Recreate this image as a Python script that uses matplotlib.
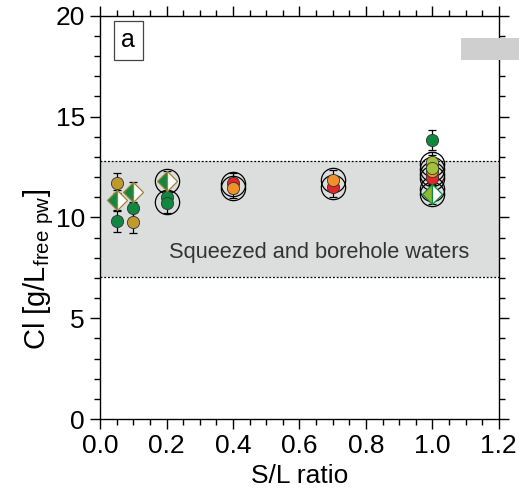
import matplotlib
matplotlib.use("Agg")
import matplotlib.pyplot as plt
from matplotlib.patches import Rectangle
from matplotlib.ticker import MultipleLocator

plt.rcParams['font.family'] = ['Liberation Sans', 'DejaVu Sans']
plt.rcParams['mathtext.fontset'] = 'custom'
plt.rcParams['mathtext.rm'] = 'Liberation Sans'

# filled symbols, S/L ratio vs Cl
green_x = [0.05, 0.1, 0.2, 0.2, 1.0]
green_y = [9.8, 10.45, 11.0, 10.7, 13.85]
gold_x = [0.05, 0.1, 1.0]
gold_y = [11.7, 9.75, 12.6]
red_x = [0.4, 0.7, 1.0, 1.0]
red_y = [11.7, 11.5, 12.1, 11.95]
orange_x = [0.4, 0.7, 1.0]
orange_y = [11.45, 11.85, 12.3]
ygreen_x = [1.0, 1.0]
ygreen_y = [12.75, 12.45]
diam_x = [0.05, 0.1, 0.2]
diam_y = [10.85, 11.25, 11.8]
ydiam_x = [1.0]
ydiam_y = [11.15]
err = 0.5

# open circles (replicates)
open_x = [0.2, 0.2, 0.4, 0.4, 0.7, 0.7, 1.0, 1.0, 1.0, 1.0, 1.0, 1.0]
open_y = [11.8, 10.75, 11.65, 11.45, 11.85, 11.5, 12.65, 12.4, 12.15, 11.95, 11.4, 11.15]

# range of squeezed and borehole waters
band_lo, band_hi = 7.05, 12.8

fig = plt.figure(figsize=(5.19, 4.95), dpi=100)
ax = fig.add_axes([0.193, 0.1535, 0.768, 0.8145])

ax.axhspan(band_lo, band_hi, color='#dcdddd', zorder=0, lw=0)
ax.axhline(band_lo, color='k', ls=(0, (1.5, 1.5)), lw=0.9, zorder=1)
ax.axhline(band_hi, color='k', ls=(0, (1.5, 1.5)), lw=0.9, zorder=1)
ax.text(0.66, 8.25, 'Squeezed and borehole waters', ha='center', va='center',
        fontsize=15.7, color='#333333', zorder=2)

ax.plot(open_x, open_y, 'o', ms=17.5, mfc='none', mec='k', mew=0.9, zorder=3)

ms = 8.8
series = [
    (green_x, green_y, '#11873f'),
    (gold_x, gold_y, '#c19a2e'),
    (red_x, red_y, '#e52628'),
    (orange_x, orange_y, '#f0902a'),
    (ygreen_x, ygreen_y, '#a3c23c'),
]
for xs, ys, c in series:
    ax.errorbar(xs, ys, yerr=err, fmt='none', ecolor='k', elinewidth=0.9,
                capsize=3.2, capthick=0.9, zorder=4)
    ax.plot(xs, ys, 'o', ms=ms, mfc=c, mec='#333333', mew=0.6, zorder=5)

ax.errorbar(diam_x, diam_y, yerr=err, fmt='none', ecolor='k', elinewidth=0.9,
            capsize=3.2, capthick=0.9, zorder=4)
ax.plot(diam_x, diam_y, 'D', ms=10, fillstyle='left', mfc='#11873f',
        mfcalt='white', mec='#9c8433', mew=0.9, zorder=5)
ax.errorbar(ydiam_x, ydiam_y, yerr=err, fmt='none', ecolor='k', elinewidth=0.9,
            capsize=3.2, capthick=0.9, zorder=4)
ax.plot(ydiam_x, ydiam_y, 'D', ms=10, fillstyle='left', mfc='#8fb733',
        mfcalt='white', mec='#11873f', mew=0.9, zorder=5)

ax.set_xlim(0, 1.2)
ax.set_ylim(0, 20)
ax.xaxis.set_major_locator(MultipleLocator(0.2))
ax.xaxis.set_minor_locator(MultipleLocator(0.05))
ax.yaxis.set_major_locator(MultipleLocator(5))
ax.yaxis.set_minor_locator(MultipleLocator(1))
ax.xaxis.set_major_formatter(plt.FormatStrFormatter('%.1f'))
ax.tick_params(which='both', direction='out', top=True, right=True,
               labelsize=19, width=1, colors='k')
ax.tick_params(which='major', length=7, pad=4)
ax.tick_params(which='minor', length=4)
for s in ax.spines.values():
    s.set_linewidth(1)

ax.set_xlabel('S/L ratio', fontsize=19, labelpad=4)
ax.set_ylabel(r'Cl [g/L$_{\mathrm{free\ pw}}$]', fontsize=21)
ax.yaxis.set_label_coords(-0.11, 0.37)

ax.text(0.084, 18.8, 'a', ha='center', va='center', fontsize=18,
        bbox=dict(boxstyle='square,pad=0.3', fc='white', ec='#444444', lw=0.9))

ax.add_patch(Rectangle((1.086, 17.8), 0.2, 1.1, fc='#cfcfcf', ec='none',
                       clip_on=False, zorder=10))

fig.savefig('out.png', dpi=100)
